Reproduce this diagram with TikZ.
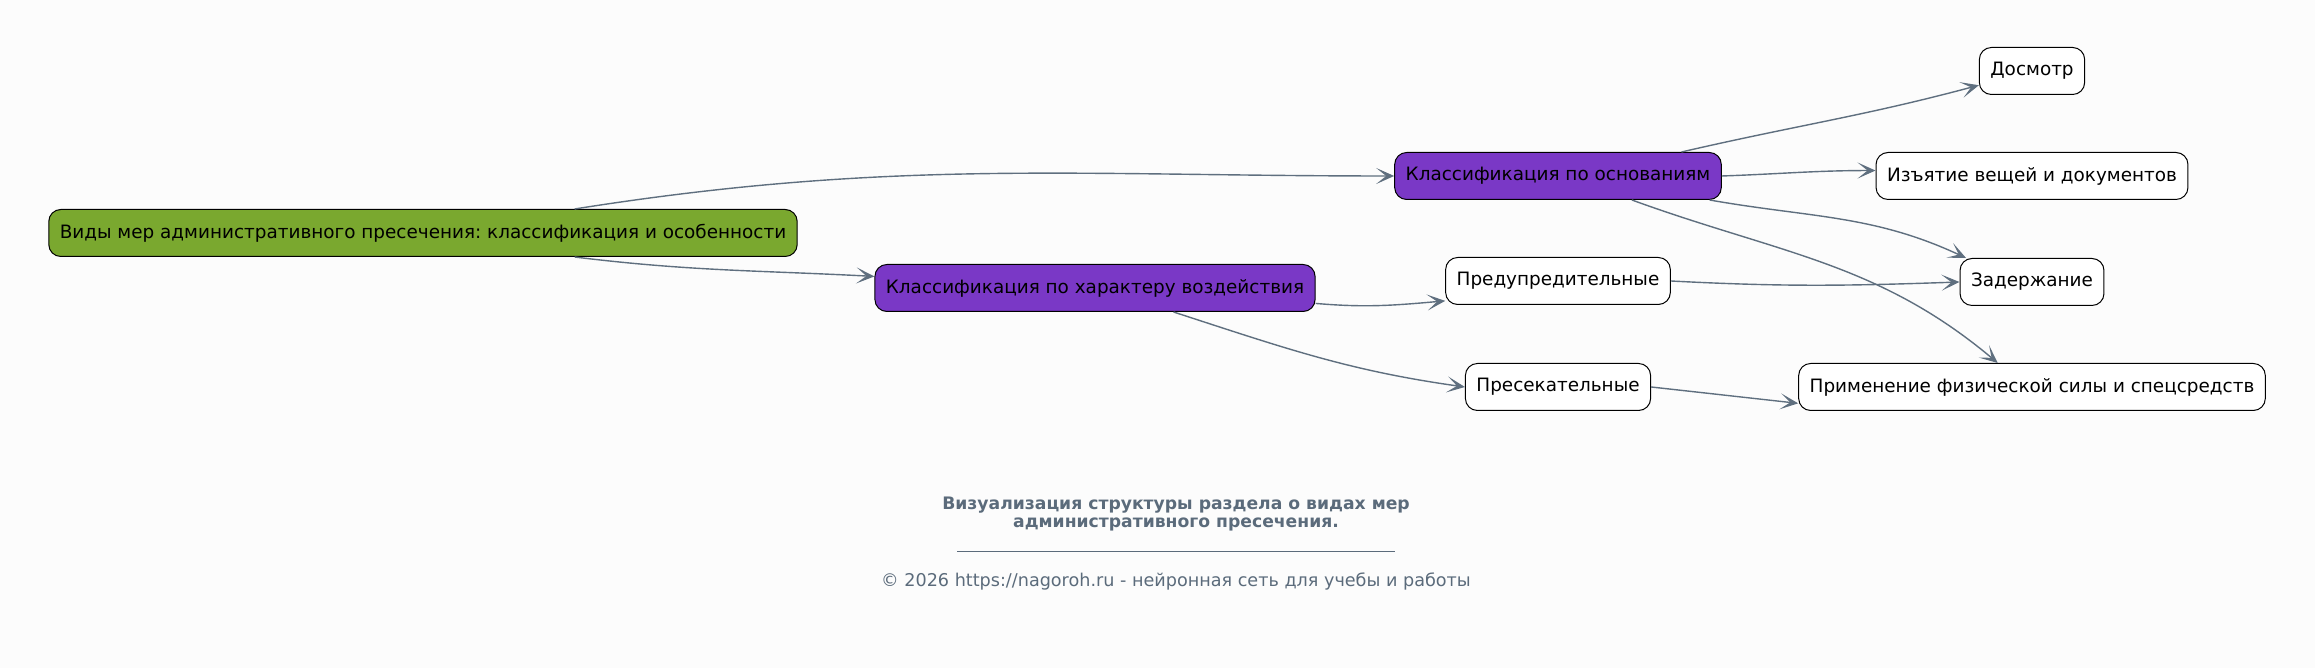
\documentclass[tikz,border=0pt]{standalone}
\usepackage{fontspec}
\setmainfont{DejaVu Sans}
\usepackage{tikz}
\usetikzlibrary{arrows.meta}
\definecolor{RootGreen}{HTML}{7AA82F}
\definecolor{GroupPurple}{HTML}{7A38C6}
\definecolor{EdgeSlate}{HTML}{5F6F7F}
\definecolor{NoteSlate}{HTML}{5B6B7B}
\definecolor{PageBg}{HTML}{FCFCFC}
\frenchspacing

\begin{document}
\begin{tikzpicture}[x=0.5pt,y=0.5pt,
  box/.style={draw=black,line width=0.5pt,rounded corners=6pt,minimum height=23.5pt,
    inner xsep=5.5pt,font=\fontsize{9.2}{11}\selectfont},
  rootbox/.style={box,fill=RootGreen},
  groupbox/.style={box,fill=GroupPurple},
  leafbox/.style={box,fill=white},
  link/.style={-{Stealth[length=9pt,width=8pt,inset=5pt]},EdgeSlate,line width=0.7pt}]
  \useasboundingbox (0,0) rectangle (2315,668);
  \fill[PageBg] (0,0) rectangle (2315,668);
  % nodes
  \node[rootbox] (root) at (423,435) {Виды мер административного пресечения: классификация и особенности};
  \node[groupbox] (osn) at (1558,492) {Классификация по основаниям};
  \node[groupbox] (har) at (1095,380) {Классификация по характеру воздействия};
  \node[leafbox] (pred) at (1558,387) {Предупредительные};
  \node[leafbox] (pres) at (1558,281) {Пресекательные};
  \node[leafbox] (dosm) at (2032,597) {Досмотр};
  \node[leafbox] (izy) at (2032,492) {Изъятие вещей и документов};
  \node[leafbox] (zad) at (2032,386) {Задержание};
  \node[leafbox] (prim) at (2032,281) {Применение физической силы и спецсредств};
  % links
  \draw[link] (root.9.5) to[out=9,in=180] (osn.west);
  \draw[link] (root.-9.5) to[out=-7,in=177] (har.177);
  \draw[link] (har.-4) to[out=-5,in=185] (pred.190);
  \draw[link] (har.-17.5) to[out=-18,in=172] (pres.west);
  \draw[link] (osn.11.5) to[out=13,in=195] (dosm.195);
  \draw[link] (osn.east) to[out=2,in=180] (izy.178);
  \draw[link] (osn.-9) to[out=-10,in=155] (zad.160);
  \draw[link] (osn.-18) to[out=-20,in=140] (prim.145);
  \draw[link] (pred.east) to[out=-3,in=182] (zad.west);
  \draw[link] (pres.east) -- (prim.184);
  % caption
  \node[NoteSlate,font=\bfseries\fontsize{8.6}{9}\selectfont,align=center] (title) at (1176,154)
    {Визуализация структуры раздела о видах мер\\административного пресечения.};
  \node[NoteSlate,inner sep=0pt] (rule) at (1176,117) {\rule{219pt}{0.4pt}};
  \node[NoteSlate,font=\fontsize{8.8}{10}\selectfont] (copy) at (1176,86)
    {© 2026 https://nagoroh.ru - нейронная сеть для учебы и работы};
\end{tikzpicture}
\end{document}
